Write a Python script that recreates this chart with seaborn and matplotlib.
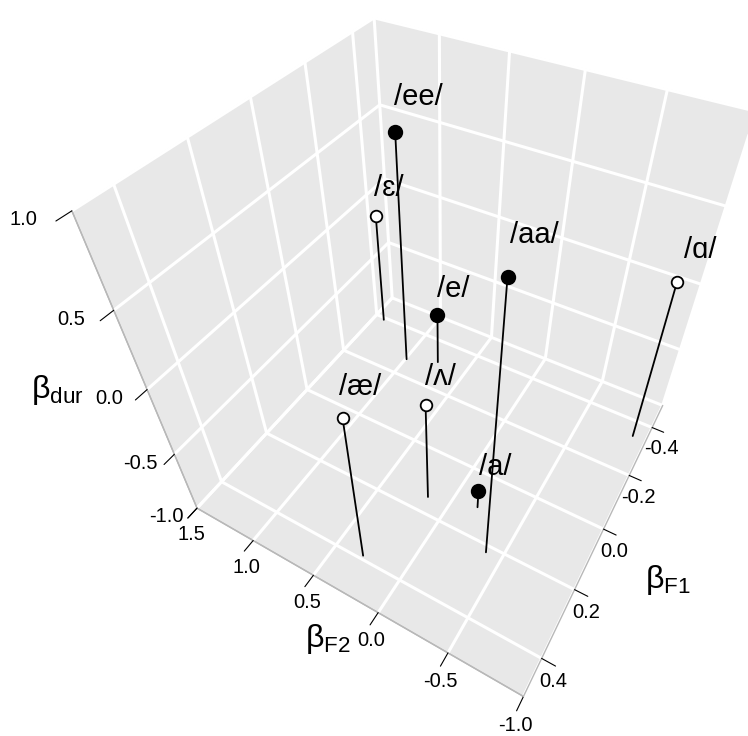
import numpy as np
import matplotlib
matplotlib.use("Agg")
import matplotlib.pyplot as plt
import seaborn as sns
from matplotlib.ticker import FormatStrFormatter

# vowel coefficients
vowels = ["/ee/", "/ɛ/", "/e/", "/aa/", "/ɑ/", "/æ/", "/ʌ/", "/a/"]
beta_f2 = [0.99, 1.41, 0.75, -0.39, -0.90, 0.30, 0.16, -0.18]
beta_f1 = [-0.27, -0.39, -0.31, 0.22, -0.34, 0.39, 0.15, 0.11]
beta_dur = [0.67, -0.12, -0.57, 0.91, 0.22, 0.15, -0.20, -0.84]
filled = [True, False, True, True, False, False, False, True]

f2_ticks = [-1.0, -0.5, 0.0, 0.5, 1.0, 1.5]
f1_ticks = [-0.4, -0.2, 0.0, 0.2, 0.4]
dur_ticks = [-1.0, -0.5, 0.0, 0.5, 1.0]

sns.set_style("white")
plt.rcParams["font.family"] = ["Liberation Sans", "DejaVu Sans"]
plt.rcParams["axes.unicode_minus"] = False
plt.rcParams["mathtext.fontset"] = "custom"
plt.rcParams["mathtext.rm"] = "Liberation Sans"
plt.rcParams["mathtext.it"] = "Liberation Sans:italic"
plt.rcParams["text.color"] = "black"
plt.rcParams["axes.labelcolor"] = "black"
plt.rcParams["xtick.color"] = "black"
plt.rcParams["ytick.color"] = "black"
plt.rcParams["grid.color"] = "white"
plt.rcParams["grid.linewidth"] = 2.2
plt.rcParams["grid.linestyle"] = "-"

fig = plt.figure(figsize=(7.48, 7.36), dpi=100)
ax = fig.add_axes([94.8 / 748, 54.0 / 736, 679.1 / 748, 679.1 / 736],
                  projection="3d", computed_zorder=False)
ax.set_xlim(-1.0, 1.5)
ax.set_ylim(-0.5, 0.5)
ax.set_zlim(-1.0, 1.0)
ax.set_box_aspect((1, 1, 1))
ax.view_init(elev=44.83, azim=119.92)
ax.set_proj_type("persp", focal_length=0.2059)

edge = "#b8b8b8"
for axis in (ax.xaxis, ax.yaxis, ax.zaxis):
    axis.set_pane_color((0.91, 0.91, 0.91, 1.0))
    axis.pane.set_edgecolor(edge)
    axis.line.set_color(edge)
    axis.line.set_linewidth(1.0)
    # ticks point away from the box
    axis._axinfo["tick"]["inward_factor"] = 0.45
    axis._axinfo["tick"]["outward_factor"] = 0.0
    axis.set_major_formatter(FormatStrFormatter("%.1f"))
    axis.set_rotate_label(False)

ax.set_xticks(f2_ticks)
ax.set_yticks(f1_ticks)
ax.set_zticks(dur_ticks)
ax.tick_params(axis="both", labelsize=14.5, colors="black", width=1.0, pad=1)
ax.zaxis.set_tick_params(pad=7)
ax.zaxis.set_ticks_position("upper")
ax.zaxis.set_label_position("upper")
ax.zaxis._axinfo["label"]["va"] = "bottom"
ax.yaxis._axinfo["label"]["ha"] = "left"
for t in ax.zaxis.get_major_ticks():
    t.label1.set_va("center_baseline")

ax.set_xlabel(r"$\mathrm{β}_{\mathrm{F2}}$", fontsize=23, labelpad=2)
ax.set_ylabel(r"$\mathrm{β}_{\mathrm{F1}}$", fontsize=23, labelpad=16)
ax.set_zlabel(r"$\mathrm{β}_{\mathrm{dur}}$", fontsize=23, labelpad=14)

zmin = ax.get_zlim()[0]
for name, x, y, z, solid in zip(vowels, beta_f2, beta_f1, beta_dur, filled):
    ax.plot([x, x], [y, y], [z, zmin], color="black", lw=1.3, zorder=2)
    ax.scatter([x], [y], [z], s=95 if solid else 70,
               facecolors="black" if solid else "white",
               edgecolors="black", linewidths=1.3, depthshade=False, zorder=3)
    ax.text(x, y, z + 0.15, name, ha="left", va="baseline", fontsize=21, zorder=4)

fig.savefig("out.png", dpi=100)
